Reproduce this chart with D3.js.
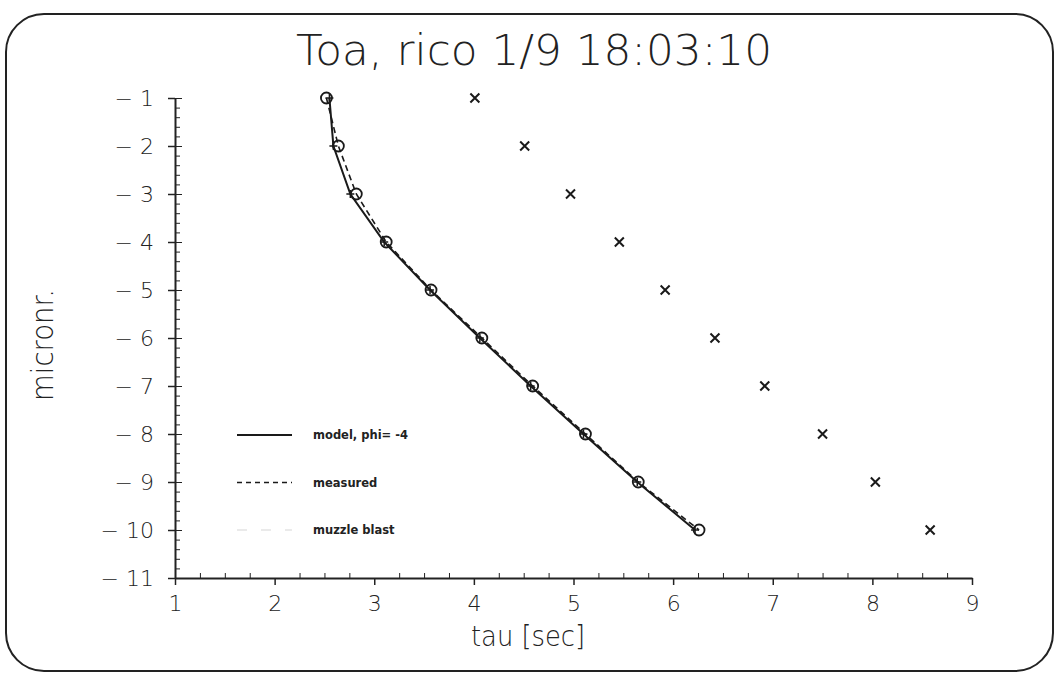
<!DOCTYPE html>
<html>
<head>
<meta charset="utf-8">
<script src="https://cdn.jsdelivr.net/npm/d3@7"></script>
<style>
  body { margin: 0; background: #fff; }
  svg { display: block; }
  .axis path, .axis line { stroke: #222; }
  .axis text { font-family: "DejaVu Sans", sans-serif; font-weight: 200; fill: #222; }
  .legend text { font-family: "DejaVu Sans", sans-serif; font-weight: bold; font-size: 11.5px; fill: #222; }
</style>
</head>
<body>
<svg id="chart"></svg>
<script>
// y levels (micronr.)
const levels = [-1, -2, -3, -4, -5, -6, -7, -8, -9, -10];
// tau values per level
const modelTau = [2.55, 2.59, 2.76, 3.10, 3.56, 4.06, 4.57, 5.10, 5.64, 6.22];
const measuredTau = [2.52, 2.64, 2.82, 3.12, 3.57, 4.08, 4.59, 5.12, 5.65, 6.26];
const blastTau = [4.01, 4.51, 4.97, 5.46, 5.92, 6.42, 6.92, 7.50, 8.03, 8.58];
const xTicks = [1, 2, 3, 4, 5, 6, 7, 8, 9];
const yTicks = [-1, -2, -3, -4, -5, -6, -7, -8, -9, -10, -11];
const legendLabels = ["model, phi=  -4", "measured", "muzzle blast"];

const config = {
  width: 1059, height: 676,
  margin: {top: 98, right: 87, bottom: 98, left: 175}
};

const svg = d3.select('#chart')
    .attr('width', config.width)
    .attr('height', config.height);

const innerW = config.width - config.margin.left - config.margin.right;
const innerH = config.height - config.margin.top - config.margin.bottom;

// rounded frame round the whole plot
svg.append('rect')
    .attr('x', 6).attr('y', 14)
    .attr('width', 1047).attr('height', 657)
    .attr('rx', 38).attr('ry', 38)
    .attr('fill', 'none')
    .attr('stroke', '#222')
    .attr('stroke-width', 2);

const chart = svg.append('g')
    .attr('transform', `translate(${config.margin.left},${config.margin.top})`);

const x = d3.scaleLinear().domain([1, 9]).range([0, innerW]);
const y = d3.scaleLinear().domain([-1, -11]).range([0, innerH]);

const fmt = d => '\u2212 ' + Math.abs(d);

// minor ticks
const xMinor = d3.range(1, 9.001, 0.25).filter(v => Math.abs(v - Math.round(v)) > 1e-6);
const yMinor = d3.range(-1, -11.001, -0.2).filter(v => Math.abs(v - Math.round(v)) > 1e-6);

chart.append('g')
    .attr('class', 'axis')
    .attr('transform', `translate(0,${innerH})`)
    .call(d3.axisTop(x).tickValues(xMinor).tickSize(5).tickFormat('').tickSizeOuter(0))
    .call(g => g.select('.domain').remove());

chart.append('g')
    .attr('class', 'axis')
    .call(d3.axisRight(y).tickValues(yMinor).tickSize(5).tickFormat('').tickSizeOuter(0))
    .call(g => g.select('.domain').remove());

// major ticks
const xAxisG = chart.append('g')
    .attr('class', 'axis')
    .attr('transform', `translate(0,${innerH})`)
    .call(d3.axisBottom(x).tickValues(xTicks).tickSize(7).tickPadding(10).tickSizeOuter(0));
xAxisG.selectAll('text').style('font-size', '22px');
xAxisG.select('.domain').attr('stroke-width', 2);
xAxisG.selectAll('.tick line').attr('stroke-width', 1.5);

const yAxisG = chart.append('g')
    .attr('class', 'axis')
    .call(d3.axisLeft(y).tickValues(yTicks).tickSize(7).tickPadding(14).tickFormat(fmt).tickSizeOuter(0));
yAxisG.selectAll('text').style('font-size', '22px');
yAxisG.select('.domain').attr('stroke-width', 2);
yAxisG.selectAll('.tick line').attr('stroke-width', 1.5);
// major y ticks also cross to the inside
chart.append('g')
    .attr('class', 'axis')
    .call(d3.axisRight(y).tickValues(yTicks).tickSize(7).tickFormat('').tickSizeOuter(0))
    .call(g => g.select('.domain').remove());

// titles
svg.append('text')
    .attr('x', 534).attr('y', 65)
    .attr('text-anchor', 'middle')
    .attr('textLength', 476)
    .attr('lengthAdjust', 'spacingAndGlyphs')
    .style('font-family', '"DejaVu Sans", sans-serif')
    .style('font-weight', 200)
    .style('font-size', '42px')
    .attr('fill', '#222')
    .text('Toa, rico 1/9 18:03:10');

svg.append('text')
    .attr('x', 528).attr('y', 646)
    .attr('text-anchor', 'middle')
    .attr('textLength', 114)
    .attr('lengthAdjust', 'spacingAndGlyphs')
    .style('font-family', '"DejaVu Sans", sans-serif')
    .style('font-weight', 200)
    .style('font-size', '28px')
    .attr('fill', '#222')
    .text('tau [sec]');

svg.append('text')
    .attr('transform', 'translate(53,345) rotate(-90)')
    .attr('text-anchor', 'middle')
    .attr('textLength', 112)
    .attr('lengthAdjust', 'spacingAndGlyphs')
    .style('font-family', '"DejaVu Sans", sans-serif')
    .style('font-weight', 200)
    .style('font-size', '30px')
    .attr('fill', '#222')
    .text('micronr.');

// series
const line = d3.line()
    .x(d => x(d[0]))
    .y(d => y(d[1]));

const modelData = levels.map((l, i) => [modelTau[i], l]);
const measuredData = levels.map((l, i) => [measuredTau[i], l]);
const blastData = levels.map((l, i) => [blastTau[i], l]);

chart.append('path')
    .datum(modelData)
    .attr('d', line)
    .attr('fill', 'none')
    .attr('stroke', '#1a1a1a')
    .attr('stroke-width', 2);

chart.append('path')
    .datum(measuredData)
    .attr('d', line)
    .attr('fill', 'none')
    .attr('stroke', '#1a1a1a')
    .attr('stroke-width', 1.6)
    .attr('stroke-dasharray', '6,4');

// small plus markers on model points
chart.selectAll('.model-pt')
    .data(modelData)
  .join('path')
    .attr('class', 'model-pt')
    .attr('transform', d => `translate(${x(d[0])},${y(d[1])})`)
    .attr('d', 'M-4,0H4M0,-4V4')
    .attr('stroke', '#1a1a1a')
    .attr('stroke-width', 1.5);

chart.selectAll('.meas-pt')
    .data(measuredData)
  .join('circle')
    .attr('class', 'meas-pt')
    .attr('cx', d => x(d[0]))
    .attr('cy', d => y(d[1]))
    .attr('r', 5.5)
    .attr('fill', 'none')
    .attr('stroke', '#1a1a1a')
    .attr('stroke-width', 1.8);

chart.selectAll('.blast-pt')
    .data(blastData)
  .join('path')
    .attr('class', 'blast-pt')
    .attr('transform', d => `translate(${x(d[0])},${y(d[1])})`)
    .attr('d', 'M-4.5,-4.5L4.5,4.5M-4.5,4.5L4.5,-4.5')
    .attr('stroke', '#1a1a1a')
    .attr('stroke-width', 2);

// legend
const legend = svg.append('g')
    .attr('class', 'legend')
    .attr('transform', 'translate(237,435)');

const legendStyles = [
  {stroke: '#1a1a1a', dash: null, width: 1.8},
  {stroke: '#1a1a1a', dash: '5,4', width: 1.4},
  {stroke: '#e4e4e4', dash: '10,14', width: 1.4}
];

legendLabels.forEach((label, i) => {
  const g = legend.append('g').attr('transform', `translate(0,${i * 47.5})`);
  g.append('line')
      .attr('x1', 0).attr('x2', 55)
      .attr('stroke', legendStyles[i].stroke)
      .attr('stroke-width', legendStyles[i].width)
      .attr('stroke-dasharray', legendStyles[i].dash);
  g.append('text')
      .attr('x', 76).attr('y', 4)
      .text(label);
});
</script>
</body>
</html>
